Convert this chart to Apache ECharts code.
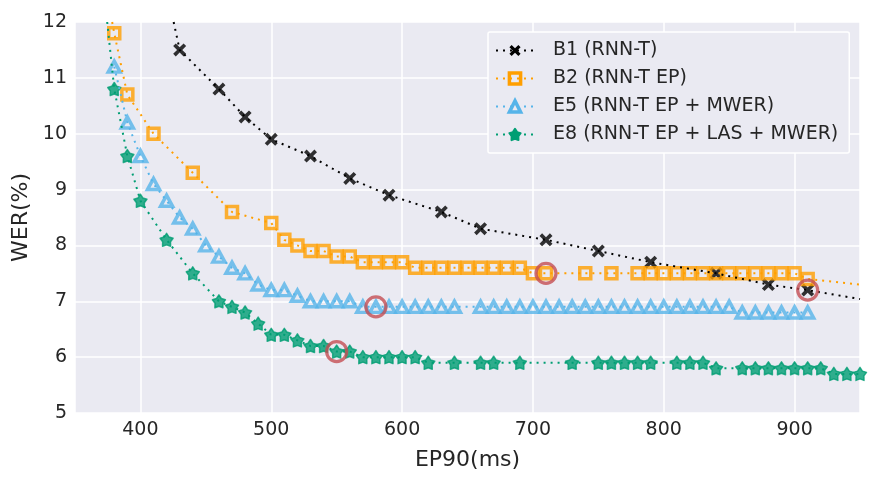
<!DOCTYPE html>
<html>
<head>
<meta charset="utf-8">
<script src="https://cdn.jsdelivr.net/npm/echarts@6/dist/echarts.min.js"></script>
<style>
html, body { margin: 0; padding: 0; background: #fff; }
#chart { width: 873px; height: 484px; }
</style>
</head>
<body>
<div id="chart"></div>
<script>
// measured points (EP90 ms, WER %)
var b1X = [430, 460, 480, 500, 530, 560, 590, 630, 660, 710, 750, 790, 840, 880, 910];
var b1Y = [11.5, 10.8, 10.3, 9.9, 9.6, 9.2, 8.9, 8.6, 8.3, 8.1, 7.9, 7.7, 7.5, 7.3, 7.2];

var b2X = [380, 390, 410, 440, 470,
    500, 510, 520, 530, 540, 550, 560, 570, 580, 590, 600,
    610, 620, 630, 640, 650, 660, 670, 680, 690,
    700, 710, 740, 760,
    780, 790, 800, 810, 820, 830, 840, 850, 860, 870, 880, 890, 900,
    910];
var b2Y = [11.8, 10.7, 10.0, 9.3, 8.6,
    8.4, 8.1, 8.0, 7.9, 7.9, 7.8, 7.8, 7.7, 7.7, 7.7, 7.7,
    7.6, 7.6, 7.6, 7.6, 7.6, 7.6, 7.6, 7.6, 7.6,
    7.5, 7.5, 7.5, 7.5,
    7.5, 7.5, 7.5, 7.5, 7.5, 7.5, 7.5, 7.5, 7.5, 7.5, 7.5, 7.5, 7.5,
    7.4];

var e5X = [380, 390, 400, 410, 420, 430, 440, 450, 460, 470, 480, 490, 500, 510, 520,
    530, 540, 550, 560,
    570, 580, 590, 600, 610, 620, 630, 640,
    660, 670, 680, 690, 700, 710, 720, 730, 740, 750, 760, 770, 780, 790, 800, 810, 820, 830, 840, 850,
    860, 870, 880, 890, 900, 910];
var e5Y = [11.2, 10.2, 9.6, 9.1, 8.8, 8.5, 8.3, 8.0, 7.8, 7.6, 7.5, 7.3, 7.2, 7.2, 7.1,
    7.0, 7.0, 7.0, 7.0,
    6.9, 6.9, 6.9, 6.9, 6.9, 6.9, 6.9, 6.9,
    6.9, 6.9, 6.9, 6.9, 6.9, 6.9, 6.9, 6.9, 6.9, 6.9, 6.9, 6.9, 6.9, 6.9, 6.9, 6.9, 6.9, 6.9, 6.9, 6.9,
    6.8, 6.8, 6.8, 6.8, 6.8, 6.8];

var e8X = [380, 390, 400, 420, 440, 460, 470, 480, 490, 500, 510, 520, 530, 540, 550, 560,
    570, 580, 590, 600, 610,
    620, 640, 660, 670, 690, 730, 750, 760, 770, 780, 790, 810, 820, 830,
    840, 860, 870, 880, 890, 900, 910, 920,
    930, 940, 950];
var e8Y = [10.8, 9.6, 8.8, 8.1, 7.5, 7.0, 6.9, 6.8, 6.6, 6.4, 6.4, 6.3, 6.2, 6.2, 6.1, 6.1,
    6.0, 6.0, 6.0, 6.0, 6.0,
    5.9, 5.9, 5.9, 5.9, 5.9, 5.9, 5.9, 5.9, 5.9, 5.9, 5.9, 5.9, 5.9, 5.9,
    5.8, 5.8, 5.8, 5.8, 5.8, 5.8, 5.8, 5.8,
    5.7, 5.7, 5.7];

// where the dotted lines leave the frame (points beyond the plotted range)
var b1Lead = [425.4, 12.0], b1Tail = [950, 7.04];
var b2Lead = [378.4, 12.0], b2Tail = [950, 7.3];
var e8Lead = [374.6, 12.0];

// highlighted operating points
var hlX = [550, 580, 710, 910];
var hlY = [6.1, 6.9, 7.5, 7.2];

var names = ['B1 (RNN-T)', 'B2 (RNN-T EP)', 'E5 (RNN-T EP + MWER)', 'E8 (RNN-T EP + LAS + MWER)'];
var colors = ['#000000', '#ff9f00', '#56b4e9', '#009e73'];

var crossPath = 'path://M0,2L2,0L5,3L8,0L10,2L7,5L10,8L8,10L5,7L2,10L0,8L3,5Z';
var starPath = 'path://M10,0L13.53,5.15L19.51,6.91L15.71,11.85L15.88,18.09L10,16L4.12,18.09L4.29,11.85L0.49,6.91L6.47,5.15Z';

function pairs(xs, ys) {
    var out = [];
    for (var i = 0; i < xs.length; i++) out.push([xs[i], ys[i]]);
    return out;
}

var markStyles = [
    { symbol: crossPath, size: 13, itemStyle: { color: colors[0] } },
    { symbol: 'rect', size: 11, itemStyle: { color: 'rgba(0,0,0,0)', borderColor: colors[1], borderWidth: 3.5, borderJoin: 'miter' } },
    { symbol: 'triangle', size: [12, 11], itemStyle: { color: 'rgba(0,0,0,0)', borderColor: colors[2], borderWidth: 3.5, borderJoin: 'miter' } },
    { symbol: starPath, size: 13, itemStyle: { color: colors[3], borderColor: colors[3], borderWidth: 1.5, borderJoin: 'round' } }
];

var points = [pairs(b1X, b1Y), pairs(b2X, b2Y), pairs(e5X, e5Y), pairs(e8X, e8Y)];
var lines = [
    [b1Lead].concat(points[0], [b1Tail]),
    [b2Lead].concat(points[1], [b2Tail]),
    points[2].slice(),
    [e8Lead].concat(points[3])
];

var series = [];
for (var k = 0; k < 4; k++) {
    series.push({
        name: names[k],
        type: 'line',
        data: lines[k],
        showSymbol: false,
        symbol: markStyles[k].symbol,
        lineStyle: { color: colors[k], width: 2, type: [2, 5] },
        itemStyle: markStyles[k].itemStyle,
        silent: true
    });
    series.push({
        name: names[k],
        type: 'scatter',
        data: points[k],
        symbol: markStyles[k].symbol,
        symbolSize: markStyles[k].size,
        itemStyle: markStyles[k].itemStyle,
        silent: true
    });
}
series.push({
    type: 'scatter',
    data: pairs(hlX, hlY),
    symbol: 'circle',
    symbolSize: 20,
    itemStyle: { color: 'rgba(0,0,0,0)', borderColor: '#c44e52', borderWidth: 3.2 },
    z: 5,
    silent: true
});

var font = 'DejaVu Sans';
var myChart = echarts.init(document.getElementById('chart'));
var option = {
    animation: false,
    backgroundColor: '#ffffff',
    grid: {
        left: 75, right: 13, top: 22, bottom: 71,
        show: true, backgroundColor: '#eaeaf2', borderWidth: 0
    },
    legend: {
        orient: 'vertical',
        left: 488,
        top: 32,
        padding: [9, 11, 9, 7],
        itemWidth: 38,
        itemHeight: 14,
        itemGap: 9,
        backgroundColor: '#eaeaf2',
        borderColor: '#ffffff',
        borderWidth: 1.5,
        borderRadius: 2,
        selectedMode: false,
        textStyle: { fontFamily: font, fontSize: 19, color: '#262626', padding: [0, 0, 0, 14] },
        data: [
            { name: names[0], itemStyle: { color: colors[0] } },
            { name: names[1], itemStyle: { color: 'rgba(0,0,0,0)', borderColor: colors[1], borderWidth: 3.5 } },
            { name: names[2], itemStyle: { color: 'rgba(0,0,0,0)', borderColor: colors[2], borderWidth: 3.5 } },
            { name: names[3], itemStyle: { color: colors[3] } }
        ]
    },
    xAxis: {
        type: 'value',
        min: 350,
        max: 950,
        name: 'EP90(ms)',
        nameLocation: 'middle',
        nameGap: 36,
        nameTextStyle: { fontFamily: font, fontSize: 22, color: '#262626' },
        axisLine: { show: false },
        axisTick: { show: false },
        axisLabel: { fontFamily: font, fontSize: 19, color: '#262626', margin: 8, showMinLabel: false, showMaxLabel: false },
        splitLine: { show: true, lineStyle: { color: '#ffffff', width: 1.5 } }
    },
    yAxis: {
        type: 'value',
        min: 5,
        max: 12,
        interval: 1,
        name: 'WER(%)',
        nameLocation: 'middle',
        nameGap: 42,
        nameTextStyle: { fontFamily: font, fontSize: 22, color: '#262626' },
        axisLine: { show: false },
        axisTick: { show: false },
        axisLabel: { fontFamily: font, fontSize: 19, color: '#262626', margin: 8 },
        splitLine: { show: true, lineStyle: { color: '#ffffff', width: 1.5 } }
    },
    series: series
};
myChart.setOption(option);
</script>
</body>
</html>
